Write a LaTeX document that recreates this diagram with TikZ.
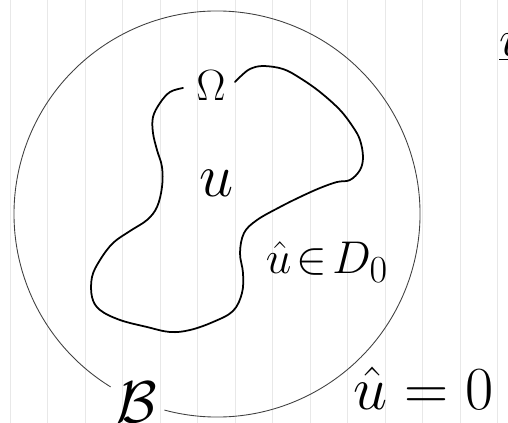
\documentclass[tikz,border=0pt]{standalone}
\usepackage{tikz}

\begin{document}
\begin{tikzpicture}[
        x=0.02cm, y=-0.02cm,
        every node/.style={font=\Huge, inner sep=0pt},
        paper/.style={gray!18, line width=0.4pt},
        ball/.style={draw=black!75, line width=0.5pt},
        blob/.style={draw=black, line width=1pt, line join=round, line cap=round}
    ]
        \useasboundingbox (0,0) rectangle (508,423);
        % ruled paper
        \foreach \k in {0,...,13}
            \draw[paper] (10+37.5*\k,0) -- (10+37.5*\k,423);

        % the ball B, open where its name sits
        \coordinate (ctr) at (217,214);
        \draw[ball] ([shift={(105:203)}]ctr) arc[start angle=105, end angle=-238.4, radius=203];

        % the set U, open where its boundary is named
        \draw[blob] plot[smooth, tension=0.6] coordinates {
            (183,88) (170,92) (160,103) (153,117) (153,133) (157,150) (162,167)
            (162,187) (157,207) (147,220) (130,231) (113,243) (100,260) (92,277)
            (92,297) (100,310) (120,320) (147,327) (170,332) (190,330) (213,322)
            (233,311) (242,293) (243,273) (240,253) (244,233) (257,220) (280,207)
            (300,197) (320,188) (337,182) (350,180) (360,170) (363,157) (360,140)
            (353,127) (340,110) (320,92) (300,78) (283,69) (263,66) (250,69)
            (241,76) (235,82)};

        \node[scale=1.0] (omega) at (211,86) {$\Omega$};
        \node[scale=1.4] (uin) at (217,183) {$u$};
        \node[scale=1.05] (uout) at (327,262) {$\hat{u}\!\in\! D_0$};
        \node[scale=1.4] (uzero) at (424,388) {$\hat{u} = 0$};
        \node[scale=1.35] (bname) at (137,402) {$\mathcal{B}$};
        \begin{scope}
            \clip (0,0) rectangle (508,423);
            \node[scale=1.2, anchor=west] (utop) at (499,47) {$\underline{u}$};
        \end{scope}
    \end{tikzpicture}
\end{document}
